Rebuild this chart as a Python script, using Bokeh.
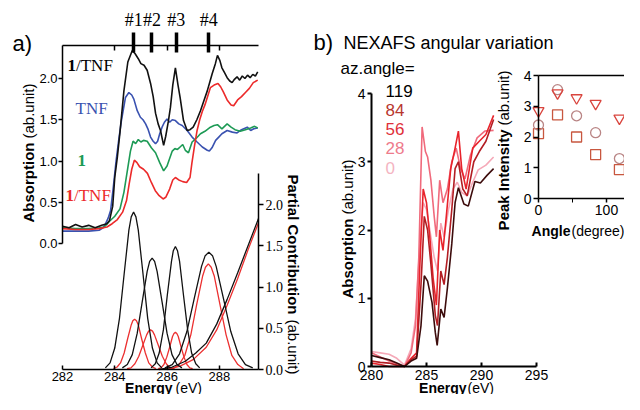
import math
from bokeh.plotting import figure
from bokeh.models import (Range1d, LinearAxis, FixedTicker, Label,
                          PrintfTickFormatter, CustomJSTickFormatter)
from bokeh.embed import file_html
from bokeh.resources import INLINE

SANS = "Liberation Sans"
SERIF = "Liberation Serif"

# ---------------- panel a : data ----------------
a_energy_ticks = [282, 284, 286, 288]
a_abs_ticks = [0.0, 0.5, 1.0, 1.5, 2.0]
a_pc_ticks = [0.0, 0.5, 1.0, 1.5, 2.0]
peak_energy = [284.73, 285.42, 286.35, 287.60]
peak_names = ["#1", "#2", "#3", "#4"]
top_minor_ticks = [284, 286, 288]

black_e = [282.0, 282.25, 282.5, 282.75, 283.0, 283.25, 283.5, 283.7, 283.8, 283.92,
           284.0, 284.1, 284.2, 284.35, 284.5, 284.67, 284.78, 284.9, 285.0, 285.12,
           285.24, 285.37, 285.47, 285.56, 285.66, 285.75, 285.87, 285.95, 286.05, 286.13,
           286.22, 286.32, 286.42, 286.5, 286.63, 286.77, 286.88, 287.0, 287.14, 287.28,
           287.42, 287.54, 287.64, 287.73, 287.85, 287.93, 288.02, 288.1, 288.2, 288.3,
           288.4, 288.49, 288.58, 288.68, 288.78, 288.88, 288.98, 289.08, 289.18, 289.28,
           289.38, 289.47]
black_a = [0.21, 0.19, 0.23, 0.20, 0.22, 0.19, 0.22, 0.24, 0.28, 0.45,
           0.80, 1.05, 1.35, 1.85, 2.20, 2.34, 2.30, 2.24, 2.18, 2.16,
           2.10, 1.94, 1.78, 1.58, 1.45, 1.37, 1.19, 1.30, 1.48, 1.65,
           1.92, 2.13, 1.92, 1.77, 1.49, 1.37, 1.38, 1.41, 1.50, 1.61,
           1.74, 1.85, 1.96, 2.06, 2.18, 2.28, 2.22, 2.13, 2.07, 2.01,
           1.97, 1.95, 1.99, 2.02, 1.98, 2.03, 2.00, 2.04, 2.01, 2.05,
           2.03, 2.08]

blue_e = [282.0, 282.5, 283.0, 283.4, 283.55, 283.65, 283.75, 283.84, 283.95, 284.05,
          284.15, 284.25, 284.41, 284.54, 284.65, 284.73, 284.86, 284.98, 285.08, 285.18,
          285.28, 285.37, 285.47, 285.56, 285.64, 285.72, 285.81, 285.9, 286.0, 286.1,
          286.2, 286.32, 286.45, 286.58, 286.77, 286.96, 287.15, 287.35, 287.54, 287.62,
          287.72, 287.86, 287.98, 288.1, 288.3, 288.5, 288.68, 288.85, 289.07, 289.2,
          289.32, 289.47]
blue_a = [0.15, 0.15, 0.15, 0.16, 0.19, 0.24, 0.31, 0.40, 0.70, 1.00,
          1.25, 1.48, 1.77, 1.83, 1.80, 1.75, 1.61, 1.53, 1.50, 1.45,
          1.38, 1.29, 1.24, 1.21, 1.24, 1.33, 1.41, 1.47, 1.51, 1.47,
          1.50, 1.49, 1.45, 1.43, 1.37, 1.29, 1.23, 1.17, 1.13, 1.12,
          1.16, 1.25, 1.29, 1.33, 1.37, 1.35, 1.34, 1.38, 1.41, 1.37,
          1.39, 1.40]

green_e = [282.0, 282.5, 283.0, 283.4, 283.6, 283.8, 284.0, 284.2, 284.35, 284.5,
           284.6, 284.7, 284.8, 284.9, 285.0, 285.1, 285.24, 285.4, 285.56, 285.72,
           285.87, 286.0, 286.1, 286.2, 286.3, 286.4, 286.5, 286.6, 286.7, 286.82,
           286.96, 287.1, 287.28, 287.45, 287.66, 287.8, 287.93, 288.1, 288.3, 288.45,
           288.6, 288.8, 289.0, 289.2, 289.35, 289.47]
green_a = [0.19, 0.18, 0.18, 0.19, 0.20, 0.27, 0.33, 0.42, 0.62, 0.92,
           1.12, 1.24, 1.21, 1.26, 1.23, 1.25, 1.24, 1.16, 1.10, 0.98,
           0.88, 0.94, 1.03, 1.12, 1.15, 1.14, 1.17, 1.20, 1.13, 1.10,
           1.23, 1.27, 1.33, 1.36, 1.41, 1.43, 1.44, 1.39, 1.45, 1.41,
           1.38, 1.36, 1.38, 1.40, 1.42, 1.40]

red_e = [282.0, 282.5, 283.0, 283.4, 283.7, 283.9, 284.1, 284.3, 284.45, 284.55,
         284.65, 284.75, 284.85, 284.95, 285.1, 285.25, 285.4, 285.55, 285.7, 285.85,
         285.95, 286.1, 286.22, 286.32, 286.45, 286.6, 286.75, 286.88, 286.95, 287.05,
         287.15, 287.25, 287.35, 287.45, 287.55, 287.66, 287.8, 287.95, 288.05, 288.15,
         288.3, 288.45, 288.55, 288.7, 288.85, 289.0, 289.15, 289.3, 289.47]
red_a = [0.18, 0.17, 0.17, 0.18, 0.20, 0.24, 0.29, 0.38, 0.52, 0.72,
         0.90, 1.01, 0.98, 0.93, 0.90, 0.85, 0.74, 0.64, 0.58, 0.54,
         0.56, 0.66, 0.77, 0.80, 0.77, 0.75, 0.74, 0.80, 0.97, 1.18,
         1.37, 1.50, 1.60, 1.68, 1.78, 1.89, 1.92, 1.94, 1.90, 1.84,
         1.74, 1.68, 1.67, 1.74, 1.78, 1.83, 1.88, 1.95, 1.98]

# partial contributions (peak components)
pcb1_e = [283.64, 283.82, 284.00, 284.18, 284.36, 284.54, 284.63, 284.72, 284.81, 284.90, 285.08, 285.26, 285.44, 285.62, 285.80]
pcb1_v = [0.02, 0.08, 0.26, 0.62, 1.16, 1.69, 1.85, 1.91, 1.85, 1.69, 1.16, 0.62, 0.26, 0.08, 0.02]
pcb2_e = [284.29, 284.48, 284.67, 284.86, 285.05, 285.24, 285.335, 285.43, 285.525, 285.62, 285.81, 286.00, 286.19, 286.38, 286.57]
pcb2_v = [0.02, 0.06, 0.18, 0.44, 0.82, 1.19, 1.31, 1.35, 1.31, 1.19, 0.82, 0.44, 0.18, 0.06, 0.02]
pcb3_e = [285.39, 285.55, 285.70, 285.86, 286.01, 286.17, 286.24, 286.32, 286.40, 286.48, 286.63, 286.79, 286.94, 287.10, 287.25]
pcb3_v = [0.02, 0.07, 0.20, 0.48, 0.90, 1.31, 1.44, 1.49, 1.44, 1.31, 0.90, 0.48, 0.20, 0.07, 0.02]
pcb4_e = [285.92, 286.20, 286.48, 286.76, 287.04, 287.32, 287.46, 287.60, 287.74, 287.88, 288.16, 288.44, 288.72, 289.00, 289.28]
pcb4_v = [0.02, 0.06, 0.19, 0.46, 0.86, 1.25, 1.38, 1.42, 1.38, 1.25, 0.86, 0.46, 0.19, 0.06, 0.02]
pcb5_e = [285.7, 286.2, 286.7, 287.1, 287.5, 287.9, 288.3, 288.7, 289.1, 289.5]
pcb5_v = [0.0, 0.03, 0.10, 0.20, 0.32, 0.55, 0.85, 1.17, 1.50, 1.83]

pcr1_e = [283.95, 284.09, 284.22, 284.36, 284.49, 284.63, 284.69, 284.76, 284.83, 284.90, 285.03, 285.17, 285.30, 285.44, 285.57]
pcr1_v = [0.01, 0.03, 0.08, 0.20, 0.37, 0.54, 0.59, 0.61, 0.59, 0.54, 0.37, 0.20, 0.08, 0.03, 0.01]
pcr2_e = [284.47, 284.62, 284.77, 284.92, 285.07, 285.22, 285.295, 285.37, 285.445, 285.52, 285.67, 285.82, 285.97, 286.12, 286.27]
pcr2_v = [0.01, 0.02, 0.07, 0.16, 0.29, 0.42, 0.465, 0.48, 0.465, 0.42, 0.29, 0.16, 0.07, 0.02, 0.01]
pcr3_e = [285.66, 285.77, 285.88, 285.99, 286.10, 286.21, 286.265, 286.32, 286.375, 286.43, 286.54, 286.65, 286.76, 286.87, 286.98]
pcr3_v = [0.01, 0.02, 0.06, 0.15, 0.27, 0.40, 0.436, 0.45, 0.436, 0.40, 0.27, 0.15, 0.06, 0.02, 0.01]
pcr4_e = [286.23, 286.46, 286.68, 286.91, 287.13, 287.36, 287.47, 287.58, 287.69, 287.81, 288.03, 288.26, 288.48, 288.71, 288.93]
pcr4_v = [0.01, 0.06, 0.17, 0.42, 0.78, 1.13, 1.24, 1.28, 1.24, 1.13, 0.78, 0.42, 0.17, 0.06, 0.01]
pcr5_e = [286.0, 286.5, 287.0, 287.5, 287.9, 288.3, 288.7, 289.1, 289.5]
pcr5_v = [0.0, 0.04, 0.12, 0.27, 0.48, 0.78, 1.10, 1.45, 1.78]

# ---------------- panel b : data ----------------
b_energy_ticks = [280, 285, 290, 295]
b_abs_ticks = [0, 1, 2, 3, 4]
az_angles = ["119", "84", "56", "28", "0"]

b119_e = [280.0, 280.8, 281.6, 282.3, 283.0, 283.6, 284.1, 284.5, 284.8, 285.1, 285.5, 285.8, 285.97,
          286.3, 286.6, 286.9, 287.3, 287.6, 287.9, 288.4, 288.8, 289.4, 289.9, 290.5, 291.1]
b119_a = [0.16, 0.13, 0.10, 0.05, 0.0, 0.08, 0.12, 0.6, 1.33, 1.25, 0.94, 0.5, 0.31,
          0.84, 0.72, 1.15, 1.8, 2.4, 2.62, 2.38, 2.35, 2.71, 2.69, 2.8, 2.9]
b84_e = [280.0, 280.8, 281.6, 282.3, 283.0, 283.6, 284.1, 284.5, 284.8, 285.1, 285.4, 285.8, 286.0,
         286.3, 286.6, 286.9, 287.3, 287.6, 287.9, 288.3, 288.7, 289.3, 289.8, 290.4, 291.1]
b84_a = [0.08, 0.06, 0.05, 0.02, 0.0, 0.10, 0.15, 1.2, 2.2, 2.0, 1.5, 0.75, 0.6,
         1.4, 1.2, 1.6, 2.3, 2.9, 3.0, 2.6, 2.5, 3.0, 3.15, 3.3, 3.62]
b56_e = [280.0, 280.8, 281.6, 282.3, 283.0, 283.6, 284.1, 284.4, 284.7, 285.0, 285.3, 285.6, 285.9,
         286.2, 286.5, 286.8, 287.2, 287.6, 287.9, 288.2, 288.6, 289.2, 289.8, 290.4, 291.1]
b56_a = [0.05, 0.03, 0.0, 0.0, 0.0, 0.12, 0.2, 1.5, 2.6, 2.4, 1.9, 1.3, 0.9,
         2.0, 1.7, 2.2, 2.9, 3.2, 3.45, 2.9, 2.6, 3.2, 3.3, 3.4, 3.68]
b28_e = [280.0, 280.8, 281.6, 282.3, 283.0, 283.6, 284.0, 284.3, 284.6, 284.9, 285.1, 285.4, 285.7,
         285.9, 286.2, 286.5, 286.9, 287.3, 287.7, 288.1, 288.5, 289.0, 289.6, 290.3, 291.1]
b28_a = [0.2, 0.14, 0.08, 0.04, 0.0, 0.2, 0.6, 1.6, 3.51, 3.15, 3.07, 2.73, 2.2,
         1.9, 2.73, 2.4, 2.6, 3.0, 3.2, 2.9, 2.75, 3.1, 3.35, 3.45, 3.46]
b0_e = [280.0, 280.8, 281.6, 282.3, 283.0, 283.6, 284.0, 284.4, 284.7, 285.0, 285.3, 285.7,
        286.0, 286.3, 286.6, 287.0, 287.4, 287.8, 288.2, 288.7, 289.2, 289.7, 290.4, 291.1]
b0_a = [0.22, 0.2, 0.18, 0.12, 0.02, 0.26, 0.7, 1.8, 2.4, 2.3, 2.0, 1.6,
        1.4, 2.1, 1.9, 2.3, 2.6, 2.7, 2.55, 2.5, 2.7, 2.88, 2.95, 3.07]

# inset : peak intensity vs azimuthal angle
inset_angle = [0, 28, 56, 84, 119]
inset_tri = [2.85, 3.43, 3.27, 3.09, 2.61]
inset_circ = [2.39, 3.54, 2.69, 2.14, 1.30]
inset_sq = [2.11, 2.72, 2.00, 1.43, 0.94]
inset_y_ticks = [0, 1, 2, 3, 4]
inset_x_ticks = [0, 100]
inset_x_minor = [50]

# ---------------- layout (pixel geometry of the panels on the canvas) ----------------
W, H = 624, 394


def lin_range(p_at_v0, v0, px_per_unit, flip=False):
    """Range1d such that value v0 sits at canvas pixel p_at_v0."""
    if not flip:
        return Range1d(v0 - p_at_v0 / px_per_unit, v0 + (W - p_at_v0) / px_per_unit)
    return Range1d(v0 - (H - p_at_v0) / px_per_unit, v0 + p_at_v0 / px_per_unit)


def style_axis(ax, size="13px", font=SANS, lw=1.5, tin=0, tout=4, standoff=2):
    ax.axis_line_width = lw
    ax.axis_line_color = "black"
    ax.major_tick_line_width = lw
    ax.major_tick_line_color = "black"
    ax.major_tick_in = tin
    ax.major_tick_out = tout
    ax.minor_tick_line_color = None
    ax.major_label_text_font = font
    ax.major_label_text_font_size = size
    ax.major_label_text_color = "black"
    ax.major_label_standoff = standoff


p = figure(width=W, height=H, title=None,
           x_range=Range1d(0, W), y_range=Range1d(H, 0),
           output_backend="svg", toolbar_location=None,
           x_axis_location=None, y_axis_location=None,
           min_border_left=0, min_border_right=0, min_border_top=0, min_border_bottom=0)
p.grid.visible = False
p.outline_line_color = None

A_PX = 196 / 7.5
p.extra_x_ranges = {
    "ax": lin_range(62, 282, A_PX),
    "bx": lin_range(371, 280, 11.0),
    "ix": lin_range(538, 0, 0.68),
}
p.extra_y_ranges = {
    "ay": lin_range(243, 0, 82.5, flip=True),
    "pc": lin_range(369, 0, 82.5, flip=True),
    "by": lin_range(366, 0, 68.25, flip=True),
    "iy": lin_range(198, 0, 30.75, flip=True),
}
A_TOP = (243 - 45) / 82.5          # absorption value at the top axis line
I_END = p.extra_x_ranges["ix"].end


def add_axis(side, xr, yr, loc, bounds, ticker, **style):
    ax = LinearAxis(x_range_name=xr, y_range_name=yr, fixed_location=loc, bounds=bounds, ticker=ticker)
    style_axis(ax, **style)
    p.add_layout(ax, side)
    return ax


def add_text(x, y, text, size, color="black", font=SANS, bold=False, angle=0.0, align="left"):
    p.add_layout(Label(x=x, y=y, text=text, text_font=font, text_font_size=size,
                       text_color=color, text_font_style="bold" if bold else "normal",
                       angle=angle, text_align=align, text_baseline="middle"))


# ================= panel a =================
ax = add_axis("left", "ax", "ay", 282, (0, A_TOP), FixedTicker(ticks=a_abs_ticks),
              size="13px", tout=4, standoff=1)
ax.formatter = PrintfTickFormatter(format="%.1f")
ax = add_axis("right", "ax", "pc", 289.5, (0, 2.38), FixedTicker(ticks=a_pc_ticks),
              size="14px", font=SERIF, tout=5, standoff=2)
ax.formatter = PrintfTickFormatter(format="%.1f")
ax = add_axis("above", "ax", "ay", A_TOP, (282, 289.5),
              FixedTicker(ticks=peak_energy, minor_ticks=top_minor_ticks),
              size="18px", font=SERIF, tin=7, tout=13, standoff=3)
ax.formatter = CustomJSTickFormatter(args=dict(names=peak_names), code="return names[index];")
ax.major_tick_line_width = 3.5
ax.minor_tick_line_color = "black"
ax.minor_tick_line_width = 1.5
ax.minor_tick_in = 5
ax.minor_tick_out = 0
add_axis("below", "ax", "pc", 0, (282, 289.5), FixedTicker(ticks=a_energy_ticks),
         size="13px", tin=4, tout=0, standoff=2)

for e, v, c in [(blue_e, blue_a, "#3a52b0"), (green_e, green_a, "#1d9a55"),
                (red_e, red_a, "#ec2a2a"), (black_e, black_a, "#111111")]:
    p.line(e, v, x_range_name="ax", y_range_name="ay", line_color=c, line_width=1.6)

for e, v in [(pcr1_e, pcr1_v), (pcr2_e, pcr2_v), (pcr3_e, pcr3_v), (pcr4_e, pcr4_v), (pcr5_e, pcr5_v)]:
    p.line(e, v, x_range_name="ax", y_range_name="pc", line_color="#ec3030", line_width=1.3)
for e, v in [(pcb1_e, pcb1_v), (pcb2_e, pcb2_v), (pcb3_e, pcb3_v), (pcb4_e, pcb4_v), (pcb5_e, pcb5_v)]:
    p.line(e, v, x_range_name="ax", y_range_name="pc", line_color="#111111", line_width=1.3)

add_text(12, 43, "a)", "22px")
add_text(67, 65, "1", "17px", font=SERIF, bold=True)
add_text(75.5, 65, "/TNF", "17px", font=SERIF)
add_text(75, 108, "TNF", "17px", color="#3a52b0", font=SERIF)
add_text(77, 160, "1", "17px", color="#1d9a55", font=SERIF, bold=True)
add_text(65, 195, "1", "17px", color="#ec2a2a", font=SERIF, bold=True)
add_text(73.5, 195, "/TNF", "17px", color="#ec2a2a", font=SERIF)

add_text(28, 142, "Absorption", "15px", bold=True, angle=math.pi / 2, align="right")
add_text(28, 138, "(ab.unit)", "15px", angle=math.pi / 2, align="left")
add_text(293, 174, "Partial Contribution", "15px", bold=True, angle=-math.pi / 2, align="left")
add_text(293, 374, "(ab.unit)", "15px", angle=-math.pi / 2, align="right")
add_text(172, 387, "Energy", "14px", bold=True, align="right")
add_text(175, 387, "(eV)", "14px", align="left")

# ================= panel b =================
add_axis("left", "bx", "by", 280, (0, 4), FixedTicker(ticks=b_abs_ticks),
         size="14px", lw=2, tout=4, standoff=2)
add_axis("below", "bx", "by", 0, (280, 295), FixedTicker(ticks=b_energy_ticks),
         size="14px", lw=2, tin=4, tout=0, standoff=3)

b_colors = ["#3d0c0c", "#b31e24", "#e8232b", "#f06a7c", "#f5a9b8"]
label_colors = ["#000000", "#b8362e", "#e0303a", "#ee7b8c", "#f4b4c2"]
b_curves = [(b119_e, b119_a), (b84_e, b84_a), (b56_e, b56_a), (b28_e, b28_a), (b0_e, b0_a)]
for (e, v), c in reversed(list(zip(b_curves, b_colors))):
    p.line(e, v, x_range_name="bx", y_range_name="by", line_color=c, line_width=1.6)

add_text(313, 42, "b)", "22px")
add_text(343, 42, "NEXAFS angular variation", "18px")
add_text(340, 68, "az.angle=", "17px")
for i, (name, c) in enumerate(zip(az_angles, label_colors)):
    add_text(385, 90 + 19.3 * i, name, "17px", color=c)

add_text(347, 218, "Absorption", "15px", bold=True, angle=math.pi / 2, align="right")
add_text(347, 214, "(ab.unit)", "15px", angle=math.pi / 2, align="left")
add_text(466, 387, "Energy", "14px", bold=True, align="right")
add_text(467, 387, "(eV)", "14px", align="left")

# ================= inset =================
add_axis("left", "ix", "iy", 0, (0, 4), FixedTicker(ticks=inset_y_ticks),
         size="14px", lw=1.5, tout=5, standoff=2)
ax = add_axis("below", "ix", "iy", 0, (0, I_END),
              FixedTicker(ticks=inset_x_ticks, minor_ticks=inset_x_minor),
              size="14px", lw=1.5, tout=4, standoff=2)
ax.minor_tick_line_color = "black"
ax.minor_tick_out = 4
ax.minor_tick_in = 0
add_axis("above", "ix", "iy", 4, (0, I_END), FixedTicker(ticks=[]), lw=1.5, tout=0)

p.scatter(inset_angle, inset_sq, x_range_name="ix", y_range_name="iy", marker="square", size=10,
          fill_color=None, line_color="#c8573f", line_width=1.3)
p.scatter(inset_angle, inset_circ, x_range_name="ix", y_range_name="iy", marker="circle", size=10,
          fill_color=None, line_color="#b98585", line_width=1.3)
p.scatter(inset_angle, inset_tri, x_range_name="ix", y_range_name="iy", marker="inverted_triangle",
          size=11, fill_color=None, line_color="#d9453e", line_width=1.3)

add_text(503, 129, "Peak Intensity", "15px", bold=True, angle=math.pi / 2, align="right")
add_text(503, 125, "(ab.unit)", "15px", angle=math.pi / 2, align="left")
add_text(570, 230, "Angle", "14px", bold=True, align="right")
add_text(571, 230, "(degree)", "14px", align="left")

open("out.html", "w").write(file_html(p, INLINE))
